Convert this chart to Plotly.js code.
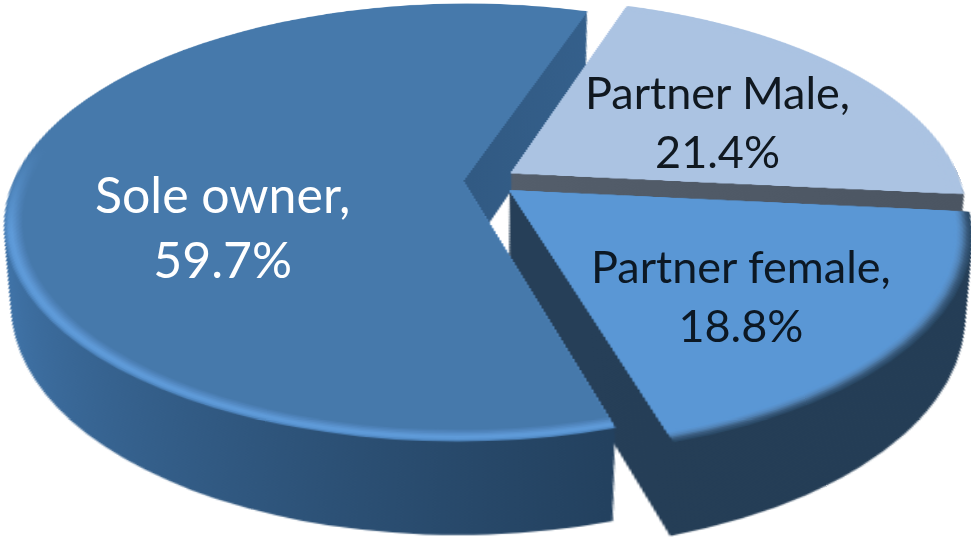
<!DOCTYPE html>
<html><head><meta charset="utf-8">
<script src="https://cdn.plot.ly/plotly-3.0.1.min.js"></script>
<style>html,body{margin:0;padding:0;background:#fff;overflow:hidden}#chart{width:971px;height:544px}</style>
</head><body><div id="chart"></div>
<script>
const categories = ['Partner Male', 'Partner female', 'Sole owner'];
const shares = [21.4, 18.8, 59.7];
const pulls = [0.068, 0.068, 0.05];
const faceColors = ['#abc3e2', '#5a97d5', '#4679ab'];
const wallStops = [['#555f6c', '#4b5562'], ['#263f58', '#233c54'], ['#3f72a6', '#223f5c']];
const rimStages = [
  {k: 1.0,   c: ['#abc3e2', '#2d4d6b', '#5088c2']},
  {k: 0.994, c: ['#abc3e2', '#38597b', '#5c98d6']},
  {k: 0.988, c: ['#abc3e2', '#466f98', '#5f9bd9']},
  {k: 0.982, c: ['#abc3e2', '#5284b8', '#5a93cf']},
  {k: 0.976, c: ['#abc3e2', '#5890ca', '#5389c2']},
  {k: 0.970, c: ['#abc3e2', '#5a97d5', '#4c80b6']},
  {k: 0.964, c: faceColors}
];
const rotationDeg = 18.5;
const labelX = [717, 741, 222];
const labelY = [122, 295, 227];
const labelSize = [45, 45, 50];
const labelColor = ['#101820', '#0c1824', '#ffffff'];

const WALL_LAYERS = 60, WALL_STEP = 1.5, SHRINK = 0.0009;
const W = 971, H = 544;
const CX = W / 2, CY = H / 2;

function pieTrace(colors) {
  return {type: 'pie', values: shares, labels: categories, sort: false, direction: 'clockwise',
    rotation: rotationDeg, pull: pulls, textinfo: 'none', hoverinfo: 'label+percent',
    marker: {colors: colors, line: {width: 0}}, domain: {x: [0, 1], y: [0, 1]}, showlegend: false};
}
const traces = [];
for (let i = 0; i < WALL_LAYERS; i++) traces.push(pieTrace(faceColors));
rimStages.forEach(s => traces.push(pieTrace(s.c)));

const annotations = categories.map((c, i) => ({
  xref: 'paper', yref: 'paper', x: labelX[i] / W, y: 1 - labelY[i] / H,
  xanchor: 'center', yanchor: 'middle', showarrow: false, align: 'center',
  text: c + ',<br>' + shares[i].toFixed(1) + '%',
  font: {family: 'Lato, Carlito, sans-serif', size: labelSize[i], color: labelColor[i]}
}));

Plotly.newPlot('chart', traces, {
  width: W, height: H, margin: {l: 0, r: 0, t: 0, b: 0},
  paper_bgcolor: 'rgba(0,0,0,0)', plot_bgcolor: 'rgba(0,0,0,0)',
  showlegend: false, annotations: annotations
}, {displayModeBar: false, staticPlot: true}).then(() => {
  const svg = document.querySelector('#chart svg.main-svg');
  const NS = 'http://www.w3.org/2000/svg';
  const defs = svg.querySelector('defs') || svg.insertBefore(document.createElementNS(NS, 'defs'), svg.firstChild);
  function addGrad(id, x1, y1, x2, y2, stops) {
    const g = document.createElementNS(NS, 'linearGradient');
    g.setAttribute('id', id);
    g.setAttribute('x1', x1); g.setAttribute('y1', y1);
    g.setAttribute('x2', x2); g.setAttribute('y2', y2);
    stops.forEach(st => {
      const s = document.createElementNS(NS, 'stop');
      s.setAttribute('offset', st[0]);
      s.setAttribute('stop-color', st[1]);
      g.appendChild(s);
    });
    defs.appendChild(g);
  }
  wallStops.forEach((st, i) => addGrad('wallGrad' + i, 0, 0.2, 1, 1, [[0.25, st[0]], [1, st[1]]]));
  rimStages.forEach((st, i) => addGrad('soleRim' + i, 0, 0, 0, 1, [[0.42, faceColors[2]], [0.62, st.c[2]]]));
  const groups = svg.querySelectorAll('.pielayer .trace');
  groups.forEach((g, ti) => {
    const paths = g.querySelectorAll('path.surface');
    if (ti < WALL_LAYERS) {
      const d = (WALL_LAYERS - ti) * WALL_STEP, f = 1 - d * SHRINK;
      g.setAttribute('transform', 'translate(0,' + d + ') translate(' + CX + ',' + CY + ') scale(' + f + ') translate(' + (-CX) + ',' + (-CY) + ')');
      paths.forEach((p, pi) => { p.style.fill = 'url(#wallGrad' + pi + ')'; });
    } else {
      const si = ti - WALL_LAYERS, k = rimStages[si].k;
      paths.forEach((p, pi) => {
        const m = /^M\s*([-\d.e]+)[ ,]([-\d.e]+)/.exec(p.getAttribute('d'));
        if (m) p.setAttribute('transform', 'translate(' + m[1] + ',' + m[2] + ') scale(' + k + ') translate(' + (-m[1]) + ',' + (-m[2]) + ')');
        if (pi === 2) p.style.fill = 'url(#soleRim' + si + ')';
      });
    }
  });
  svg.style.overflow = 'visible';
  svg.style.transformOrigin = '485.5px 272px';
  svg.style.transform = 'translate(0px,-91px) perspective(2084px) rotateX(62deg) scale(1.765)';
});
</script></body></html>
